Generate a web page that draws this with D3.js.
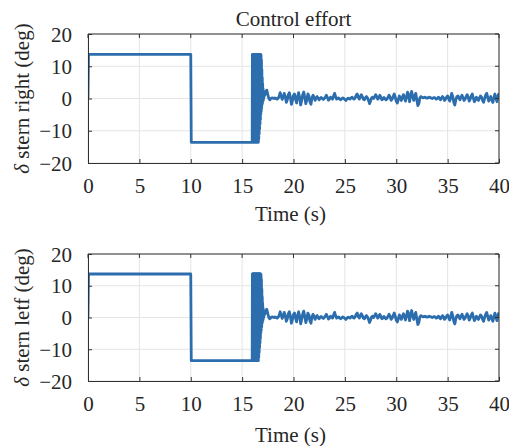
<!DOCTYPE html>
<html><head><meta charset="utf-8">
<script src="https://cdn.jsdelivr.net/npm/d3@7"></script>
<style>body{margin:0;background:#fff;} svg{display:block;}</style>
</head><body>
<script>
// ---- data ----
const xTicks = [0, 5, 10, 15, 20, 25, 30, 35, 40];
const yTicks = [-20, -10, 0, 10, 20];
const titleText = "Control effort";
const xLabel = "Time (s)";
const yLabels = ["stern right (deg)", "stern letf (deg)"];

// step phase: time, values (right / left)
const stepTimes = [0, 0.05, 10, 10.05, 15.98];
const stepRight = [0, 13.7, 13.7, -13.6, -13.6];
const stepLeft  = [0, 13.7, 13.7, -13.6, -13.6];

// chattering phase sampled every 0.02 s from 16.00 s
const chatterStart = 16.0, chatterDt = 0.02;
const chatterRight = [13.7,-13.6,13.7,-13.6,13.7,-13.6,13.7,-13.6,13.7,-13.6,
  13.7,-13.6,13.7,-13.6,13.7,-13.6,13.7,-13.6,13.7,-13.6,
  13.7,-13.6,13.7,-13.6,13.7,-13.6,13.7,-13.6,13.7,-13.6,
  13.7,-12.5,13.7,-11,13.7,-9.5,13.7,-8,13.7,-6.5,
  13.7,-5,13.5,-4,12,-3,9,-2,6.5,-1.5,
  4.5,-1,3,-0.5,2,0,1.5,0.5,1.0,1.0];
const chatterLeft = chatterRight;

// settled phase sampled every 0.1 s from 17.2 s
const noiseStart = 17.2, noiseDt = 0.1;
const noiseRight = [1.0,2.2,2.6,1.2,0.0,-0.4,0.0,0.2,
  0.1,0.0,0.2,0.0,-0.2,0.1,0.6,1.8,0.8,-0.3,
  0.4,1.6,0.6,-1.2,-0.4,1.2,1.8,0.3,-1.8,-0.6,
  1.0,1.4,-0.2,-1.4,0.6,1.8,0.4,-2.0,-0.5,1.2,
  2.0,0.2,-1.6,-0.4,1.4,0.8,-1.0,-1.8,0.2,1.0,
  0.4,-0.6,0.2,0.6,0.0,-0.4,0.1,0.3,0.0,-0.3,
  0.0,0.5,1.0,0.3,-0.5,-0.2,0.4,0.2,-0.2,0.8,
  1.6,0.6,-0.2,0.0,0.2,-0.2,-0.4,-0.1,0.2,0.0,
  -0.3,-0.6,-0.2,0.1,0.0,-0.2,0.2,0.4,0.0,-0.2,
  0.2,1.0,1.4,0.4,-0.2,0.6,1.2,0.6,-0.2,-0.4,
  0.2,0.6,0.2,-0.6,-1.6,-0.8,0.2,0.4,0.0,0.6,
  1.2,0.6,-0.2,0.2,1.0,0.4,-0.4,-0.2,0.3,0.0,
  -0.4,-0.2,0.4,1.0,0.4,-0.6,-0.2,0.6,1.4,0.4,
  -0.8,-1.4,-0.4,0.8,0.2,-0.6,0.4,1.2,0.2,-0.8,
  0.6,2.0,0.8,-1.0,1.2,2.2,0.6,-0.6,0.8,1.6,
  -0.4,-2.2,-1.6,0.2,0.6,0.4,0.2,0.3,0.4,0.2,
  0.1,0.2,0.4,0.3,0.1,0.0,0.2,0.3,0.1,-0.2,
  0.0,0.4,0.2,-0.4,0.0,0.6,0.2,-0.6,-0.2,0.4,
  0.8,0.0,-0.8,0.2,1.6,0.6,-1.2,-2.0,-0.4,0.6,
  0.8,0.2,-0.4,0.4,1.0,0.2,-0.6,-0.2,0.6,1.2,
  0.4,-0.8,-0.2,0.8,1.4,0.2,-1.0,-0.4,0.4,-0.2,
  -0.6,0.2,0.8,0.4,-0.6,-1.2,0.0,1.0,1.6,0.4,
  -0.8,-0.2,0.6,-0.4,-1.2,0.2,1.4,0.2,-1.0,0.8,
  1.6];
const noiseLeft = noiseRight;

// ---- build series ----
function buildSeries(step, chatter, noise) {
  const pts = stepTimes.map((t, i) => [t, step[i]]);
  chatter.forEach((v, i) => pts.push([chatterStart + i * chatterDt, v]));
  noise.forEach((v, i) => pts.push([noiseStart + i * noiseDt, v]));
  return pts;
}
const series = [buildSeries(stepRight, chatterRight, noiseRight),
                buildSeries(stepLeft, chatterLeft, noiseLeft)];

// ---- layout ----
const W = 509, H = 446;
const svg = d3.select("body").append("svg").attr("width", W).attr("height", H);
const font = "'Liberation Serif','Times New Roman',serif";
const fs = 21;
const txtColor = "#262626";
const panels = [{top: 34, bottom: 163, xlab: 221}, {top: 254, bottom: 381, xlab: 442}];
const left = 88, right = 499;
const lineColor = "#2b6dad";
const axisColor = "#303030";

const x = d3.scaleLinear().domain([0, 40]).range([left, right]);

panels.forEach((p, k) => {
  const y = d3.scaleLinear().domain([-20, 20]).range([p.bottom, p.top]);
  const g = svg.append("g");
  // grid
  g.selectAll(".gx").data(xTicks).enter().append("line")
    .attr("x1", d => x(d)).attr("x2", d => x(d)).attr("y1", p.top).attr("y2", p.bottom)
    .attr("stroke", "#e4e4e4").attr("stroke-width", 1);
  g.selectAll(".gy").data(yTicks).enter().append("line")
    .attr("y1", d => y(d)).attr("y2", d => y(d)).attr("x1", left).attr("x2", right)
    .attr("stroke", "#e4e4e4").attr("stroke-width", 1);
  // line
  const clipId = "clip" + k;
  svg.append("clipPath").attr("id", clipId).append("rect")
    .attr("x", left).attr("y", p.top).attr("width", right - left).attr("height", p.bottom - p.top);
  g.append("path").datum(series[k])
    .attr("clip-path", `url(#${clipId})`)
    .attr("fill", "none").attr("stroke", lineColor).attr("stroke-width", 2.8)
    .attr("stroke-linejoin", "round")
    .attr("d", d3.line().x(d => x(d[0])).y(d => y(d[1])));
  // axes (box + inward ticks)
  const xAxis = d3.axisBottom(x).tickValues(xTicks).tickSizeInner(-4).tickSizeOuter(0).tickPadding(15);
  const gx = g.append("g").attr("transform", `translate(0,${p.bottom})`).call(xAxis);
  const yAxis = d3.axisLeft(y).tickValues(yTicks).tickSizeInner(-4).tickSizeOuter(0).tickPadding(16)
    .tickFormat(d => d < 0 ? "\u2212" + Math.abs(d) : d);
  const gy = g.append("g").attr("transform", `translate(${left},0)`).call(yAxis);
  [gx, gy].forEach(a => {
    a.selectAll("text").attr("font-family", font).attr("font-size", fs).attr("fill", txtColor);
    a.selectAll("line").attr("stroke", axisColor);
    a.select(".domain").attr("stroke", axisColor);
  });
  gy.selectAll("text").attr("dy", "0.34em");
  // top and right box edges with ticks
  g.append("line").attr("x1", left).attr("x2", right).attr("y1", p.top).attr("y2", p.top).attr("stroke", axisColor);
  g.append("line").attr("x1", right).attr("x2", right).attr("y1", p.top).attr("y2", p.bottom).attr("stroke", axisColor);
  g.selectAll(".tt").data(xTicks).enter().append("line")
    .attr("x1", d => x(d)).attr("x2", d => x(d)).attr("y1", p.top).attr("y2", p.top + 4).attr("stroke", axisColor);
  g.selectAll(".tr").data(yTicks).enter().append("line")
    .attr("y1", d => y(d)).attr("y2", d => y(d)).attr("x1", right).attr("x2", right - 4).attr("stroke", axisColor);
  // x label
  g.append("text").attr("x", (left + right) / 2 - 3).attr("y", p.xlab)
    .attr("text-anchor", "middle").attr("font-family", font).attr("font-size", fs).attr("fill", txtColor)
    .text(xLabel);
  // y label
  const yl = g.append("text")
    .attr("transform", `translate(${29},${(p.top + p.bottom) / 2}) rotate(-90)`)
    .attr("text-anchor", "middle").attr("font-family", font).attr("font-size", fs).attr("fill", txtColor);
  yl.append("tspan").attr("font-style", "italic").text("\u03b4");
  yl.append("tspan").text(" " + yLabels[k]);
});

svg.append("text").attr("x", (left + right) / 2).attr("y", 26)
  .attr("text-anchor", "middle").attr("font-family", font).attr("font-size", fs).attr("fill", txtColor)
  .text(titleText);
</script>
</body></html>
